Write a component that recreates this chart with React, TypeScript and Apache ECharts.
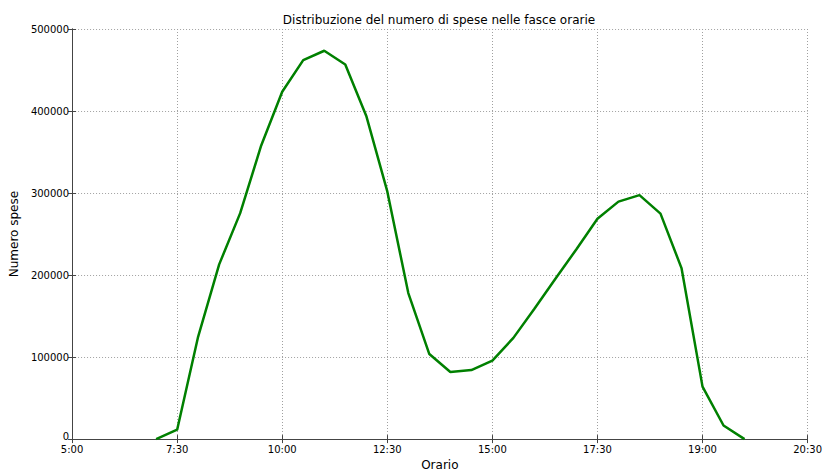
import React, { useEffect, useRef } from "react";
import * as echarts from "echarts";

const tickLabels = ["5:00", "7:30", "10:00", "12:30", "15:00", "17:30", "19:00", "20:30"];
const slotCount = 35;
const firstSlot = 4;
const speseValues = [
  0, 11500, 125000, 213000, 275500, 358000, 423500, 462000, 473500, 456800,
  394000, 302000, 178000, 103700, 81900, 84200, 95700, 123400, 159000, 195500,
  231500, 268600, 289500, 297400, 274900, 208500, 64000, 16600, 0,
];
const yTicks = { min: 0, max: 500000, step: 100000 };

const FONT = "DejaVu Sans";

export default function App() {
  const ref = useRef<HTMLDivElement>(null);
  useEffect(() => {
    if (!ref.current) return;
    const chart = echarts.init(ref.current, undefined, { renderer: "svg" });
    const data = speseValues.map((v, i) => [firstSlot + i, v]);
    const spine = { show: true, lineStyle: { color: "#444", width: 1 } };
    const tick = { show: true, inside: true, length: 4, lineStyle: { color: "#444", width: 1 } };
    const grid = { show: true, lineStyle: { color: "#a0a0a0", type: [1, 2], width: 1 } };
    chart.setOption({
      animation: false,
      title: {
        text: "Distribuzione del numero di spese nelle fasce orarie",
        left: 439,
        top: 14,
        textAlign: "center",
        padding: 0,
        textStyle: { fontFamily: FONT, fontSize: 12, fontWeight: "normal", color: "#000" },
      },
      grid: { left: 68, right: 15, top: 29, bottom: 25, containLabel: false },
      xAxis: [
        {
          type: "value",
          min: 0,
          max: slotCount,
          interval: 5,
          name: "Orario",
          nameLocation: "middle",
          nameGap: 16,
          nameTextStyle: { fontFamily: FONT, fontSize: 12, color: "#000" },
          axisLine: spine,
          axisTick: tick,
          splitLine: grid,
          axisLabel: {
            fontFamily: FONT,
            fontSize: 10,
            lineHeight: 10,
            color: "#000",
            margin: 5,
            formatter: (v: number) => tickLabels[Math.round(v / 5)] ?? "",
          },
        },
        {
          type: "value",
          position: "top",
          min: 0,
          max: slotCount,
          interval: 5,
          axisLine: spine,
          axisTick: tick,
          splitLine: { show: false },
          axisLabel: { show: false },
        },
      ],
      yAxis: [
        {
          type: "value",
          min: yTicks.min,
          max: yTicks.max,
          interval: yTicks.step,
          name: "Numero spese",
          nameLocation: "middle",
          nameGap: 44,
          nameTextStyle: { fontFamily: FONT, fontSize: 12, color: "#000" },
          axisLine: spine,
          axisTick: tick,
          splitLine: grid,
          axisLabel: {
            fontFamily: FONT,
            fontSize: 10,
            lineHeight: 10,
            color: "#000",
            margin: 3,
            formatter: (v: number) => (v === 0 ? "{z|0}" : String(v)),
            rich: {
              z: {
                fontFamily: FONT,
                fontSize: 10,
                lineHeight: 10,
                color: "#000",
                padding: [0, 0, 5, 0],
              },
            },
          },
        },
        {
          type: "value",
          position: "right",
          min: yTicks.min,
          max: yTicks.max,
          interval: yTicks.step,
          axisLine: spine,
          axisTick: tick,
          splitLine: { show: false },
          axisLabel: { show: false },
        },
      ],
      series: [
        {
          type: "line",
          data,
          showSymbol: false,
          symbol: "none",
          lineStyle: { color: "#008000", width: 2.5 },
          z: 1,
        },
      ],
    });
    return () => chart.dispose();
  }, []);
  return (
    <div
      ref={ref}
      style={{ position: "absolute", left: 0, top: 0, width: 825, height: 476 }}
    />
  );
}
